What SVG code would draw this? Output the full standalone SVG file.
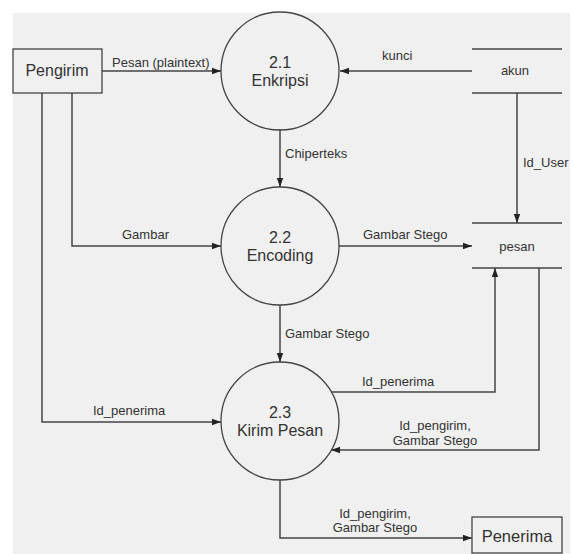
<svg xmlns="http://www.w3.org/2000/svg" width="573" height="554" viewBox="0 0 573 554">
<defs>
<marker id="ah" markerWidth="10" markerHeight="8" refX="9" refY="4" orient="auto" markerUnits="userSpaceOnUse">
<path d="M0,0.8 L9,4 L0,7.2 Z" fill="#222"/>
</marker>
<style>
.n{fill:none;stroke:#444;stroke-width:1.3}
.c{fill:none;stroke:#444;stroke-width:1.5}
.t{font-family:"Liberation Sans",Arial,sans-serif;font-size:16px;fill:#333;text-anchor:middle}
.l{font-family:"Liberation Sans",Arial,sans-serif;font-size:13px;fill:#333}
.m{text-anchor:middle}
</style>
</defs>
<rect width="573" height="554" fill="#ffffff"/>
<rect x="13" y="13" width="557" height="541" fill="#f0f0f0"/>
<g id="connectors">
<line class="c" x1="102" y1="71" x2="221" y2="71" marker-end="url(#ah)"/>
<text class="l" x="112" y="67">Pesan (plaintext)</text>
<line class="c" x1="472" y1="71" x2="340" y2="71" marker-end="url(#ah)"/>
<text class="l" x="382" y="60">kunci</text>
<line class="c" x1="280" y1="129" x2="280" y2="187" marker-end="url(#ah)"/>
<text class="l" x="285" y="158">Chiperteks</text>
<line class="c" x1="517" y1="93" x2="517" y2="223" marker-end="url(#ah)"/>
<text class="l" x="523" y="167">Id_User</text>
<polyline class="c" points="72,93 72,246 221,246" marker-end="url(#ah)"/>
<text class="l" x="122" y="239">Gambar</text>
<line class="c" x1="339" y1="246" x2="472" y2="246" marker-end="url(#ah)"/>
<text class="l" x="363" y="239">Gambar Stego</text>
<line class="c" x1="280" y1="305" x2="280" y2="362" marker-end="url(#ah)"/>
<text class="l" x="285" y="338">Gambar Stego</text>
<polyline class="c" points="42,93 42,422 221,422" marker-end="url(#ah)"/>
<text class="l" x="93" y="415">Id_penerima</text>
<polyline class="c" points="331,392 495,392 495,268" marker-end="url(#ah)"/>
<text class="l" x="362" y="386">Id_penerima</text>
<polyline class="c" points="539,268 539,450 331,450" marker-end="url(#ah)"/>
<text class="l m" x="435" y="430">Id_pengirim,</text>
<text class="l m" x="435" y="445">Gambar Stego</text>
<polyline class="c" points="280,480 280,538 472,538" marker-end="url(#ah)"/>
<text class="l m" x="375" y="518">Id_pengirim,</text>
<text class="l m" x="375" y="532">Gambar Stego</text>
</g>
<g id="pengirim">
<rect class="n" x="13" y="49" width="89" height="44"/>
<text class="t" x="57" y="76">Pengirim</text>
</g>
<g id="p21">
<circle class="n" cx="280" cy="71" r="59"/>
<text class="t" x="280" y="68">2.1</text>
<text class="t" x="280" y="86">Enkripsi</text>
</g>
<g id="p22">
<circle class="n" cx="280" cy="246" r="59"/>
<text class="t" x="280" y="243">2.2</text>
<text class="t" x="280" y="261">Encoding</text>
</g>
<g id="p23">
<circle class="n" cx="280" cy="421" r="59"/>
<text class="t" x="280" y="418">2.3</text>
<text class="t" x="280" y="436">Kirim Pesan</text>
</g>
<g id="akun">
<line class="n" x1="472" y1="49" x2="562" y2="49"/>
<line class="n" x1="472" y1="93" x2="562" y2="93"/>
<text class="l m" x="515" y="75">akun</text>
</g>
<g id="pesan">
<line class="n" x1="472" y1="223" x2="562" y2="223"/>
<line class="n" x1="472" y1="268" x2="562" y2="268"/>
<text class="l m" x="517" y="251">pesan</text>
</g>
<g id="penerima">
<rect class="n" x="472" y="517" width="90" height="36"/>
<text class="t" x="517" y="542" style="font-size:16.5px">Penerima</text>
</g>
</svg>
